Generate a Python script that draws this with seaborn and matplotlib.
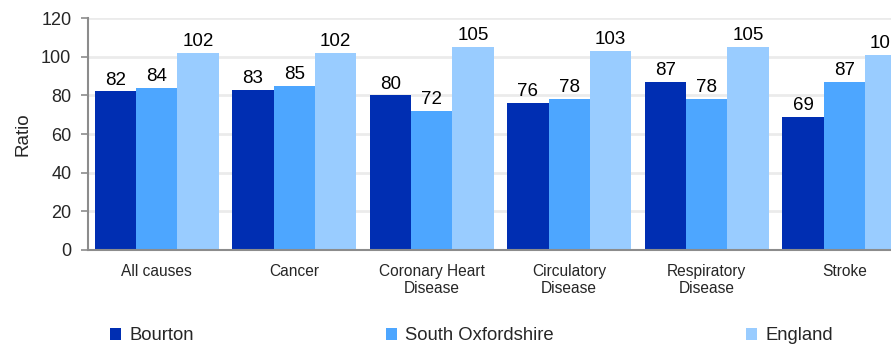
import matplotlib
matplotlib.use("Agg")
import matplotlib.pyplot as plt
import seaborn as sns
import pandas as pd
import numpy as np

causes = ["All causes", "Cancer", "Coronary Heart\nDisease", "Circulatory\nDisease",
          "Respiratory\nDisease", "Stroke"]
areas = ["Bourton", "South Oxfordshire", "England"]
bourton = [82, 83, 80, 76, 87, 69]
south_oxfordshire = [84, 85, 72, 78, 78, 87]
england = [102, 102, 105, 103, 105, 101]
yticks = [0, 20, 40, 60, 80, 100, 120]
colors = ["#002EB2", "#4DA6FF", "#99CCFF"]

df = pd.DataFrame({
    "Cause": causes * 3,
    "Area": np.repeat(areas, len(causes)),
    "Ratio": bourton + south_oxfordshire + england,
})

sns.set_style("white")
plt.rcParams["font.family"] = ["Liberation Sans", "DejaVu Sans"]

fig = plt.figure(figsize=(8.91, 3.44), dpi=100)
# axes run past the right edge of the figure
ax = fig.add_axes([88 / 891, 94 / 344, 825 / 891, 232 / 344])

sns.barplot(data=df, x="Cause", y="Ratio", hue="Area", palette=colors,
            width=0.9, saturation=1, linewidth=0, edgecolor="none", ax=ax, legend=True)

for cont in ax.containers:
    ax.bar_label(cont, fmt="%d", padding=2, fontsize=13.5, color="#000000")

ax.set_xlim(-0.5, len(causes) - 0.5)
ax.set_ylim(0, 120)
ax.set_yticks(yticks)
ax.set_yticklabels([str(t) for t in yticks], fontsize=13)
ax.yaxis.grid(True, color="#EBEBEB", linewidth=2)
ax.set_axisbelow(True)

ax.set_xticks(range(len(causes)))
ax.set_xticklabels(causes, fontsize=11.2, linespacing=1.15)
ax.set_xticks(np.arange(-0.5, len(causes)), minor=True)
ax.tick_params(axis="x", which="major", length=0, pad=10)
ax.tick_params(axis="x", which="minor", length=4, width=1.2, color="#8C8C8C", direction="out")
ax.tick_params(axis="y", length=5, width=1.2, color="#8C8C8C", direction="out", left=True, pad=7)

ax.set_xlabel("")
ax.set_ylabel("Ratio", fontsize=13.5, labelpad=7)

for s in ["top", "right"]:
    ax.spines[s].set_visible(False)
for s in ["left", "bottom"]:
    ax.spines[s].set_color("#8C8C8C")
    ax.spines[s].set_linewidth(1.5)

handles, labels = ax.get_legend_handles_labels()
ax.get_legend().remove()
fig.legend(handles, labels, loc="center left", bbox_to_anchor=(110 / 891, 8 / 344),
           ncol=3, frameon=False, fontsize=13.3, handlelength=0.6, handleheight=0.6,
           handletextpad=0.45, columnspacing=10.4, borderpad=0, borderaxespad=0)

fig.savefig("out.png", dpi=100)
